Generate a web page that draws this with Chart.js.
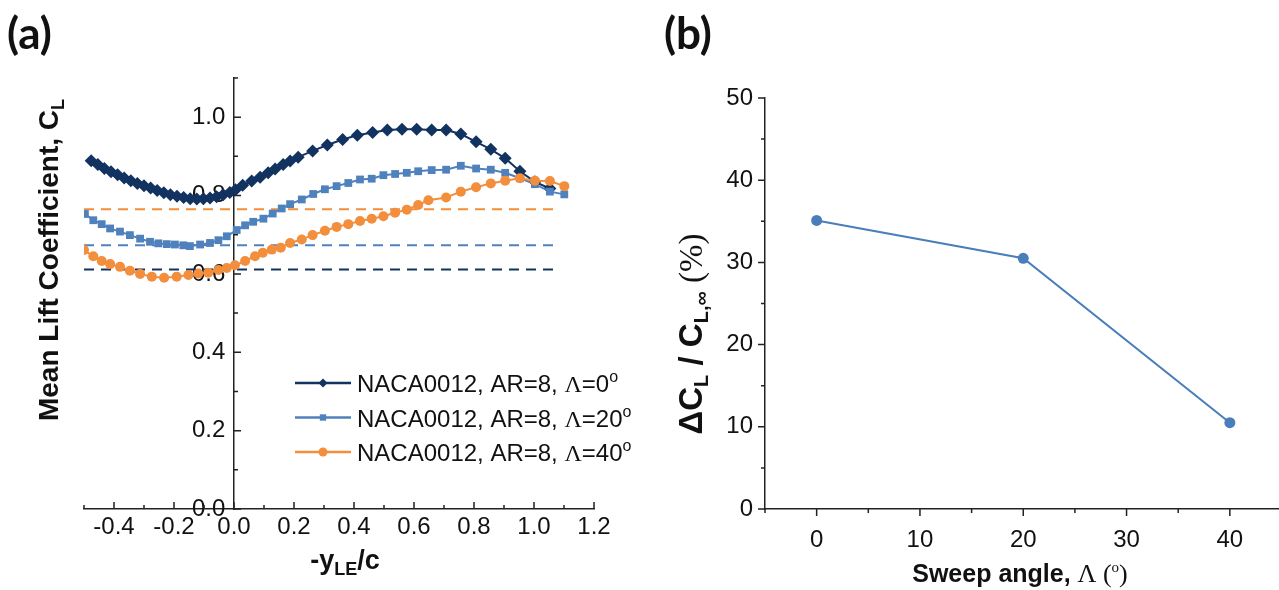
<!DOCTYPE html>
<html>
<head>
<meta charset="utf-8">
<script src="https://cdn.jsdelivr.net/npm/chart.js@4.4.1/dist/chart.umd.min.js"></script>
<style>
body{margin:0;background:#fff;width:1279px;height:590px;position:relative;overflow:hidden}
.panel{position:absolute;top:0;height:590px}
#pa{left:0;width:640px}
#pb{left:640px;width:647px}
.tag{position:absolute;top:6px;font:bold 44px Lato,'Liberation Sans',sans-serif;color:#111}
</style>
</head>
<body>
<div class="panel" id="pa"><canvas id="chartA"></canvas></div>
<div class="panel" id="pb"><canvas id="chartB"></canvas></div>
<div class="tag" style="left:7px">(a)</div>
<div class="tag" style="left:664px">(b)</div>
<script>
const SANS = "'Liberation Sans', Arial, sans-serif";
const SERIF = "'Liberation Serif', 'Times New Roman', serif";

// panel (a): mean lift coefficient vs -yLE/c
const sweepAngles = [0, 20, 40];

const x0deg = [-0.476,-0.454,-0.432,-0.410,-0.388,-0.366,-0.344,-0.322,-0.300,-0.278,-0.256,-0.234,-0.212,-0.190,-0.168,-0.146,-0.124,-0.102,-0.080,-0.058,-0.036,-0.014,0.005,0.029,0.059,0.087,0.114,0.137,0.164,0.187,0.214,0.262,0.311,0.362,0.411,0.462,0.511,0.560,0.609,0.659,0.707,0.756,0.807,0.856,0.904,0.953,1.003,1.053];
const cl0deg = [0.889,0.879,0.869,0.861,0.853,0.845,0.838,0.831,0.825,0.819,0.813,0.807,0.802,0.798,0.795,0.792,0.791,0.792,0.794,0.797,0.802,0.808,0.815,0.826,0.837,0.847,0.858,0.868,0.879,0.888,0.898,0.914,0.929,0.943,0.954,0.961,0.967,0.969,0.969,0.967,0.967,0.957,0.937,0.918,0.895,0.862,0.835,0.818];

const x20deg = [-0.497,-0.469,-0.441,-0.413,-0.380,-0.347,-0.313,-0.280,-0.252,-0.224,-0.197,-0.169,-0.147,-0.113,-0.080,-0.052,-0.024,0.009,0.037,0.064,0.098,0.129,0.159,0.187,0.226,0.264,0.303,0.342,0.381,0.420,0.459,0.498,0.537,0.576,0.614,0.659,0.707,0.756,0.807,0.856,0.904,0.953,1.003,1.053,1.101];
const cl20deg = [0.753,0.737,0.727,0.716,0.708,0.699,0.690,0.682,0.678,0.676,0.675,0.673,0.671,0.675,0.679,0.686,0.696,0.712,0.724,0.733,0.741,0.754,0.767,0.778,0.790,0.804,0.816,0.824,0.832,0.841,0.843,0.852,0.855,0.858,0.862,0.865,0.866,0.876,0.869,0.866,0.858,0.844,0.829,0.810,0.803];

const x40deg = [-0.500,-0.469,-0.441,-0.413,-0.380,-0.347,-0.313,-0.274,-0.233,-0.191,-0.152,-0.119,-0.086,-0.052,-0.024,0.003,0.037,0.070,0.096,0.126,0.156,0.187,0.226,0.262,0.303,0.342,0.381,0.420,0.459,0.498,0.537,0.576,0.614,0.648,0.707,0.756,0.807,0.856,0.904,0.953,1.003,1.053,1.101];
const cl40deg = [0.661,0.645,0.633,0.625,0.618,0.608,0.600,0.593,0.590,0.593,0.597,0.601,0.603,0.610,0.615,0.622,0.633,0.645,0.654,0.662,0.667,0.679,0.688,0.699,0.710,0.720,0.727,0.735,0.741,0.747,0.756,0.764,0.776,0.788,0.795,0.810,0.821,0.831,0.838,0.844,0.838,0.837,0.824];

// dashed reference levels
const meanCL = [0.611, 0.673, 0.765];
const meanXRange = [-0.5, 1.07];

// panel (b): relative lift change vs sweep angle
const sweepB = [0, 20, 40];
const deltaCL = [35.1, 30.5, 10.5];

const colors = ['#123260', '#4f81bd', '#f28e3c'];
const markers = ['rectRot', 'rect', 'circle'];
const markerSize = [6.5, 5.5, 5];

const pts = (xs, ys) => xs.map((x, i) => ({x: x, y: ys[i]}));

const tickMarks = {
  id: 'tickMarks',
  beforeDatasetsDraw(chart, args, opts) {
    const {ctx, chartArea} = chart;
    const sx = chart.scales.x, sy = chart.scales.y;
    const d = opts.inward ? 1 : -1;
    const xAxisY = chartArea.bottom;
    const yAxisX = opts.yAt !== undefined ? sx.getPixelForValue(opts.yAt) : chartArea.left;
    ctx.save();
    ctx.strokeStyle = '#222';
    ctx.lineWidth = 1.5;
    ctx.beginPath();
    sx.ticks.forEach((t, i) => {
      const len = t.label ? 7 : 4;
      const px = sx.getPixelForTick(i);
      ctx.moveTo(px, xAxisY);
      ctx.lineTo(px, xAxisY - d * len);
    });
    sy.ticks.forEach((t, i) => {
      const len = t.label ? 7 : 4;
      const py = sy.getPixelForTick(i);
      ctx.moveTo(yAxisX, py);
      ctx.lineTo(yAxisX + d * len, py);
    });
    ctx.stroke();
    ctx.restore();
  }
};

function drawSegs(ctx, segs, align) {
  let w = 0;
  segs.forEach(s => { ctx.font = s.font; w += ctx.measureText(s.t).width; });
  let cx = align === 'left' ? 0 : -w / 2;
  segs.forEach(s => {
    ctx.font = s.font;
    ctx.fillText(s.t, cx, s.dy || 0);
    cx += ctx.measureText(s.t).width;
  });
}

const richText = {
  id: 'richText',
  afterDraw(chart, args, opts) {
    const ctx = chart.ctx;
    (opts.items || []).forEach(it => {
      ctx.save();
      ctx.translate(it.x, it.y);
      if (it.rot) ctx.rotate(it.rot);
      ctx.fillStyle = '#111';
      ctx.textBaseline = 'alphabetic';
      drawSegs(ctx, it.segs, it.align);
      ctx.restore();
    });
  }
};

const insideLegend = {
  id: 'insideLegend',
  afterDraw(chart, args, opts) {
    if (!opts.rows) return;
    const ctx = chart.ctx;
    opts.rows.forEach((r, i) => {
      const ds = chart.data.datasets[r.ds];
      const y = opts.y + i * opts.gap;
      ctx.save();
      ctx.strokeStyle = ds.borderColor;
      ctx.lineWidth = 2.5;
      ctx.beginPath();
      ctx.moveTo(opts.x, y);
      ctx.lineTo(opts.x + 56, y);
      ctx.stroke();
      ctx.fillStyle = ds.pointBackgroundColor;
      Chart.helpers.drawPoint(ctx, {pointStyle: ds.pointStyle, radius: 4.5, borderWidth: 0, rotation: 0}, opts.x + 28, y);
      ctx.fillStyle = '#111';
      ctx.translate(opts.x + 62, y + 9);
      drawSegs(ctx, r.segs, 'left');
      ctx.restore();
    });
  }
};

Chart.register(tickMarks, richText, insideLegend);

const labelEven = v => {
  const r = Math.round(v * 10);
  return r % 2 ? '' : (r / 10).toFixed(1);
};
// y labels of panel (a) sit on an axis placed at x=0, where Chart.js adds no padding
const labelEvenPadded = v => {
  const s = labelEven(v);
  return s ? s + ' \u200A' : '';
};

const seriesA = sweepAngles.map((a, i) => ({
  label: 'NACA0012, AR=8, \u039B=' + a + '\u00B0',
  data: pts([x0deg, x20deg, x40deg][i], [cl0deg, cl20deg, cl40deg][i]),
  borderColor: colors[i],
  backgroundColor: colors[i],
  pointBackgroundColor: colors[i],
  pointBorderWidth: 0,
  pointStyle: markers[i],
  pointRadius: markerSize[i],
  borderWidth: 2,
  order: 3 - i
}));

const dashedA = meanCL.map((m, i) => ({
  label: 'mean ' + sweepAngles[i],
  data: pts(meanXRange, [m, m]),
  borderColor: colors[i],
  borderDash: [10, 7],
  borderWidth: 2,
  pointRadius: 0,
  order: 10 + i
}));

const legendRows = sweepAngles.map((a, i) => ({
  ds: i,
  segs: [
    {t: 'NACA0012, AR=8, ', font: '24px ' + SANS},
    {t: '\u039B', font: '24px ' + SERIF},
    {t: '=' + a, font: '24px ' + SANS},
    {t: 'o', font: '16px ' + SANS, dy: -10}
  ]
}));

const tickFont = {family: SANS, size: 24};

new Chart(document.getElementById('chartA'), {
  type: 'line',
  data: {datasets: seriesA.concat(dashedA)},
  options: {
    responsive: true,
    maintainAspectRatio: false,
    animation: false,
    layout: {padding: {left: 84, right: 46, top: 78, bottom: 0}},
    plugins: {
      legend: {display: false},
      tooltip: {enabled: false},
      tickMarks: {inward: true, yAt: 0},
      insideLegend: {x: 295, y: 383, gap: 34.5, rows: legendRows},
      richText: {items: [
        {x: 58, y: 260, rot: -Math.PI / 2, segs: [
          {t: 'Mean Lift Coefficient, C', font: 'bold 28px ' + SANS},
          {t: 'L', font: 'bold 18px ' + SANS, dy: 6}
        ]},
        {x: 345, y: 569, segs: [
          {t: '-y', font: 'bold 27px ' + SANS},
          {t: 'LE', font: 'bold 18px ' + SANS, dy: 6},
          {t: '/c', font: 'bold 27px ' + SANS}
        ]}
      ]}
    },
    scales: {
      x: {
        type: 'linear', min: -0.5, max: 1.2,
        grid: {display: false, drawTicks: false},
        border: {display: true, color: '#222', width: 1.5},
        ticks: {stepSize: 0.1, autoSkip: false, maxRotation: 0, padding: 4, color: '#111',
          font: tickFont, callback: labelEven},
        afterFit: s => { s.height = 81; }
      },
      y: {
        type: 'linear', axis: 'y', position: {x: 0}, min: 0, max: 1.1,
        grid: {display: false, drawTicks: false},
        border: {display: true, color: '#222', width: 1.5},
        ticks: {stepSize: 0.1, autoSkip: false, color: '#111',
          font: tickFont, callback: labelEvenPadded}
      }
    }
  }
});

new Chart(document.getElementById('chartB'), {
  type: 'line',
  data: {datasets: [{
    label: 'dCL',
    data: pts(sweepB, deltaCL),
    borderColor: '#4a7ebb',
    pointBackgroundColor: '#4a7ebb',
    pointBorderWidth: 0,
    pointRadius: 5.5,
    borderWidth: 2
  }]},
  options: {
    responsive: true,
    maintainAspectRatio: false,
    animation: false,
    layout: {padding: {left: 0, right: 0, top: 98, bottom: 0}},
    plugins: {
      legend: {display: false},
      tooltip: {enabled: false},
      tickMarks: {inward: false},
      richText: {items: [
        {x: 62, y: 334, rot: -Math.PI / 2, segs: [
          {t: '\u0394C', font: 'bold 33px ' + SANS},
          {t: 'L', font: 'bold 20px ' + SANS, dy: 6},
          {t: ' / C', font: 'bold 33px ' + SANS},
          {t: 'L,\u221E', font: 'bold 20px ' + SANS, dy: 6},
          {t: ' (%)', font: '33px ' + SERIF}
        ]},
        {x: 380, y: 582, segs: [
          {t: 'Sweep angle, ', font: 'bold 25px ' + SANS},
          {t: '\u039B (', font: '26px ' + SERIF},
          {t: 'o', font: '15px ' + SERIF, dy: -10},
          {t: ')', font: '26px ' + SERIF}
        ]}
      ]}
    },
    scales: {
      x: {
        type: 'linear', min: -5, max: 45,
        grid: {display: false, drawTicks: false},
        border: {display: true, color: '#222', width: 1.5},
        ticks: {stepSize: 5, autoSkip: false, maxRotation: 0, padding: 17, color: '#111',
          font: tickFont,
          callback: v => (v % 10 === 0 && v >= 0) ? String(v) : ''},
        afterFit: s => { s.height = 81; s.paddingLeft = 0; s.paddingRight = 0; }
      },
      y: {
        type: 'linear', min: 0, max: 50,
        grid: {display: false, drawTicks: false},
        border: {display: true, color: '#222', width: 1.5},
        ticks: {stepSize: 5, autoSkip: false, padding: 12, color: '#111',
          font: tickFont,
          callback: v => v % 10 === 0 ? String(v) : ''},
        afterFit: s => { s.width = 125; s.paddingTop = 0; s.paddingBottom = 0; }
      }
    }
  }
});
</script>
</body>
</html>
